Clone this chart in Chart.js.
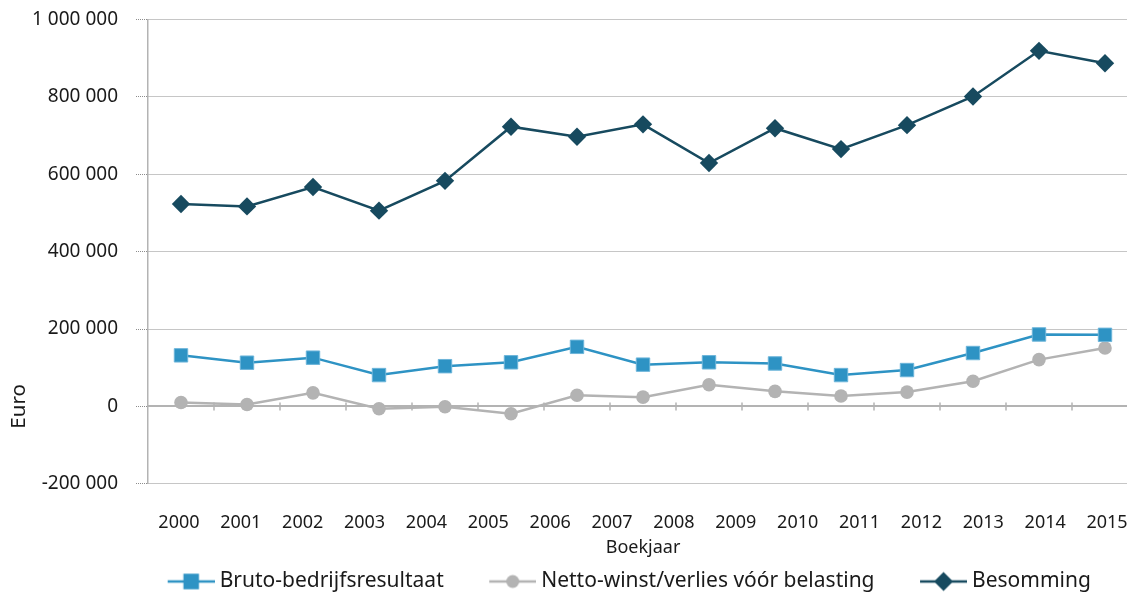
<!DOCTYPE html>
<html>
<head>
<meta charset="utf-8">
<title>Besomming en resultaat</title>
<script src="https://cdn.jsdelivr.net/npm/chart.js@4.4.1/dist/chart.umd.min.js"></script>
<style>
    html, body { margin: 0; padding: 0; background: #fff; overflow: hidden; }
    #wrap { width: 1127px; height: 594px; overflow: hidden; }
</style>
</head>
<body>
<div id="wrap"><canvas id="myChart" width="1221" height="602"></canvas></div>
<script>
/* ===============================
   DATA
=============================== */
const years = ["2000", "2001", "2002", "2003", "2004", "2005", "2006", "2007",
               "2008", "2009", "2010", "2011", "2012", "2013", "2014", "2015"];

// the plotted series hold 15 points, the axis shows 16 year labels
const pointYears = years.slice(0, 15);

const bruto = [132000, 113000, 126000, 81000, 104000, 114000, 154000, 108000,
               114000, 111000, 81000, 94000, 138000, 186000, 185000];

const netto = [10000, 5000, 35000, -6000, -1000, -19000, 29000, 24000,
               56000, 39000, 27000, 37000, 65000, 121000, 151000];

const besomming = [523000, 517000, 567000, 506000, 583000, 723000, 697000, 729000,
                   629000, 719000, 665000, 727000, 801000, 919000, 887000];

const seriesNames = ["Bruto-bedrijfsresultaat", "Netto-winst/verlies vóór belasting", "Besomming"];

const yMin = -200000;
const yMax = 1000000;
const yStep = 200000;

const yTitle = "Euro";
const xTitle = "Boekjaar";

/* ===============================
   STYLE
=============================== */
const FONT = "'Noto Sans', 'Open Sans', sans-serif";
const textColor = "#1a1a1a";
const axisGrey = "#b3b3b3";
const gridGrey = "#8c8c8c";

const blue = "#2e93c4";
const grey = "#b3b3b3";
const navy = "#174a5f";

Chart.defaults.font.family = FONT;
Chart.defaults.color = textColor;

function formatEuro(v) {
    const s = String(Math.abs(v)).replace(/\B(?=(\d{3})+(?!\d))/g, " ");
    return (v < 0 ? "-" : "") + s;
}

/* legend symbol: short line with the marker in the middle */
function legendSymbol(color, style, radius) {
    const c = document.createElement("canvas");
    c.width = 90;
    c.height = 22;
    const g = c.getContext("2d");
    g.strokeStyle = color;
    g.lineWidth = 2.5;
    g.beginPath();
    g.moveTo(43, 11);
    g.lineTo(90, 11);
    g.stroke();
    g.fillStyle = color;
    Chart.helpers.drawPoint(g, { pointStyle: style, radius: radius, borderWidth: 0 }, 66.5, 11);
    return c;
}

const symbols = [
    legendSymbol(blue, "rect", 11),
    legendSymbol(grey, "circle", 6.5),
    legendSymbol(navy, "rectRot", 9.5)
];

/* ===============================
   EXTRA AXIS DRAWING
=============================== */
const axisExtras = {
    id: "axisExtras",
    beforeDatasetsDraw(chart) {
        const { ctx, scales } = chart;
        const x = scales.x;
        const y0 = scales.y.getPixelForValue(0);
        const half = (x.getPixelForValue(1) - x.getPixelForValue(0)) / 2;
        ctx.save();
        ctx.strokeStyle = axisGrey;
        ctx.lineWidth = 1.5;
        for (let i = 0; i < pointYears.length; i++) {
            const px = x.getPixelForValue(i) + half;
            ctx.beginPath();
            ctx.moveTo(px, y0 - 4);
            ctx.lineTo(px, y0 + 4);
            ctx.stroke();
        }
        ctx.restore();
    },
    afterDraw(chart) {
        const { ctx, scales } = chart;
        const y0 = scales.y.getPixelForValue(0);
        ctx.save();
        ctx.translate(19, y0);
        ctx.rotate(-Math.PI / 2);
        ctx.font = "20.5px " + FONT;
        ctx.fillStyle = textColor;
        ctx.textAlign = "center";
        ctx.textBaseline = "middle";
        ctx.fillText(yTitle, 0, 0);
        ctx.restore();
    }
};

/* ===============================
   CHART
=============================== */
const ctx = document.getElementById("myChart");
const canvasWidth = 1221;
const plotRight = 1138;

const myChart = new Chart(ctx, {
    type: "line",
    data: {
        labels: pointYears,
        datasets: [
            {
                label: seriesNames[0],
                data: bruto,
                borderColor: blue,
                backgroundColor: blue,
                borderWidth: 2.5,
                pointStyle: "rect",
                pointRadius: 9.5,
                pointHoverRadius: 9.5,
                pointBackgroundColor: blue,
                pointBorderColor: "#6db5da",
                pointBorderWidth: 1,
                tension: 0
            },
            {
                label: seriesNames[1],
                data: netto,
                borderColor: grey,
                backgroundColor: grey,
                borderWidth: 2.5,
                pointStyle: "circle",
                pointRadius: 6.8,
                pointHoverRadius: 6.8,
                pointBackgroundColor: grey,
                pointBorderColor: grey,
                pointBorderWidth: 0,
                tension: 0
            },
            {
                label: seriesNames[2],
                data: besomming,
                borderColor: navy,
                backgroundColor: navy,
                borderWidth: 2.5,
                pointStyle: "rectRot",
                pointRadius: 9.2,
                pointHoverRadius: 9.2,
                pointBackgroundColor: navy,
                pointBorderColor: navy,
                pointBorderWidth: 0,
                tension: 0
            }
        ]
    },
    options: {
        responsive: false,
        animation: false,
        layout: { padding: { top: 19.5, left: 0, right: 0, bottom: 0 } },
        plugins: {
            tooltip: { enabled: false },
            legend: {
                position: "bottom",
                align: "center",
                labels: {
                    usePointStyle: true,
                    pointStyleWidth: 79,
                    padding: 8,
                    color: textColor,
                    font: { size: 21 },
                    generateLabels: chart => chart.data.datasets.map((ds, i) => ({
                        text: ds.label,
                        pointStyle: symbols[i],
                        fillStyle: ds.borderColor,
                        strokeStyle: ds.borderColor,
                        lineWidth: 0,
                        hidden: false,
                        datasetIndex: i,
                        fontColor: textColor
                    }))
                }
            }
        },
        scales: {
            x: {
                type: "category",
                position: { y: 0 },
                offset: true,
                grid: { display: true, drawOnChartArea: false, drawTicks: false },
                border: { display: true, color: axisGrey, width: 2 },
                ticks: { display: false }
            },
            x2: {
                type: "category",
                labels: years,
                position: "bottom",
                offset: true,
                grid: { display: false, drawTicks: false },
                border: { display: false },
                ticks: {
                    font: { size: 18 },
                    color: textColor,
                    padding: 28,
                    maxRotation: 0,
                    autoSkip: false
                },
                title: {
                    display: true,
                    text: xTitle,
                    color: textColor,
                    font: { size: 18 },
                    padding: { top: -24, bottom: 4 }
                }
            },
            y: {
                type: "linear",
                position: "left",
                min: yMin,
                max: yMax,
                ticks: {
                    stepSize: yStep,
                    font: { size: 19 },
                    color: textColor,
                    padding: 18,
                    callback: v => formatEuro(v)
                },
                grid: {
                    color: gridGrey,
                    lineWidth: 1,
                    tickLength: 12,
                    tickColor: gridGrey,
                    tickBorderDash: [1, 1]
                },
                border: { display: true, color: axisGrey, width: 1.5, dash: [1, 1] },
                afterFit(scale) {
                    scale.width = 148;
                    scale.paddingTop = 0;
                }
            },
            yr: {
                type: "linear",
                position: "right",
                display: true,
                grid: { display: false, drawTicks: false },
                border: { display: false },
                ticks: { display: false },
                afterFit(scale) { scale.width = canvasWidth - plotRight; }
            }
        }
    },
    plugins: [axisExtras]
});
</script>
</body>
</html>
